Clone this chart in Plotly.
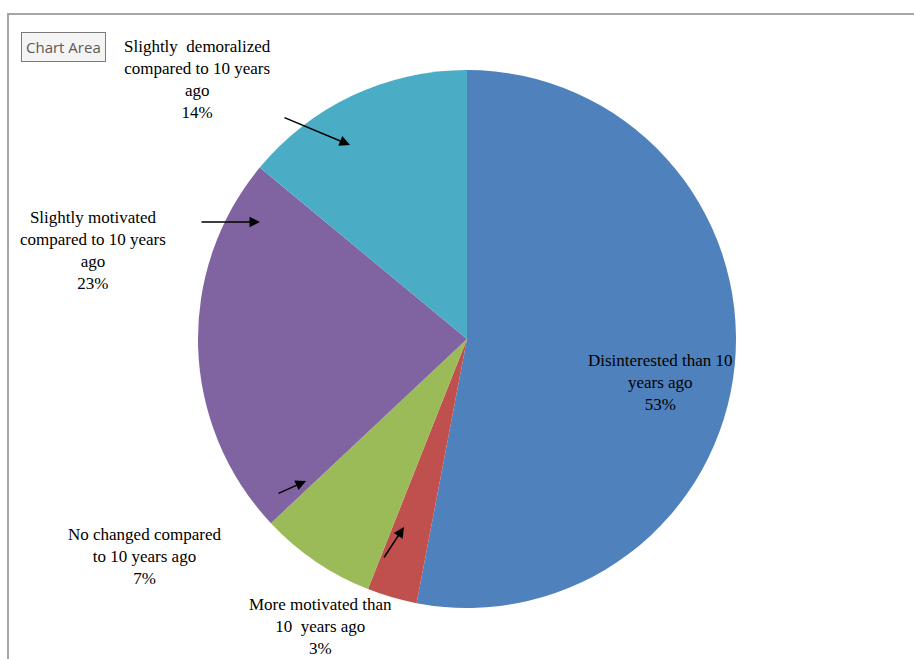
import plotly.graph_objects as go

W, H = 914, 659

categories = [
    "Disinterested than 10 years ago",
    "More motivated than 10 years ago",
    "No changed compared to 10 years ago",
    "Slightly motivated compared to 10 years ago",
    "Slightly demoralized compared to 10 years ago",
]
label_lines = [
    "Disinterested than 10<br>years ago",
    "More motivated than<br>10  years ago",
    "No changed compared<br>to 10 years ago",
    "Slightly motivated<br>compared to 10 years<br>ago",
    "Slightly  demoralized<br>compared to 10 years<br>ago",
]
values = [53, 3, 7, 23, 14]
colors = ["#4F81BD", "#C0504D", "#9BBB59", "#8064A2", "#4BACC6"]

# pie geometry in pixels
cx, cy, r = 467, 339, 269

def px(x):
    return x / W

def py(y):
    return 1 - y / H

fig = go.Figure(go.Pie(
    labels=categories,
    values=values,
    marker=dict(colors=colors, line=dict(width=0)),
    sort=False,
    direction="clockwise",
    rotation=0,
    textinfo="none",
    hoverinfo="label+percent",
    showlegend=False,
    domain=dict(x=[px(cx - r), px(cx + r)], y=[py(cy + r), py(cy - r)]),
))

font = dict(family="Liberation Serif, Times New Roman, serif", size=17, color="#000000")

# label positions (pixel centres)
label_pos = [(660, 382), (320, 626), (144, 556), (93, 250), (197, 80)]
total = sum(values)
annotations = []
for name, v, (lx, ly) in zip(label_lines, values, label_pos):
    annotations.append(dict(
        x=px(lx), y=py(ly), xref="paper", yref="paper",
        text=f"{name}<br>{round(v / total * 100)}%",
        showarrow=False, font=font, align="center",
        xanchor="center", yanchor="middle",
    ))

# leader arrows (tip, tail) in pixels
arrows = [((404, 527), (383, 559)), ((306, 481), (277, 494)),
          ((260, 222), (200, 222)), ((350, 145), (283, 117))]
for (tx, ty), (sx, sy) in arrows:
    annotations.append(dict(
        x=px(tx), y=py(ty), xref="paper", yref="paper",
        ax=sx - tx, ay=sy - ty, axref="pixel", ayref="pixel",
        text="", showarrow=True, arrowhead=2, arrowsize=1.4,
        arrowwidth=1.5, arrowcolor="#000000",
    ))

# "Chart Area" tooltip
annotations.append(dict(
    x=px(63), y=py(47), xref="paper", yref="paper",
    text="Chart Area", showarrow=False,
    font=dict(family="Open Sans, DejaVu Sans, sans-serif", size=15, color="#5a5a5a"),
    bgcolor="#f4f4f4", bordercolor="#7a7a7a", borderwidth=1, borderpad=4,
    xanchor="center", yanchor="middle",
))

fig.update_layout(
    width=W, height=H,
    margin=dict(l=0, r=0, t=0, b=0),
    paper_bgcolor="#ffffff",
    plot_bgcolor="#ffffff",
    annotations=annotations,
    shapes=[dict(type="rect", xref="paper", yref="paper",
                 x0=px(8), x1=1.02, y0=-0.02, y1=py(14),
                 line=dict(color="#a6a6a6", width=2), layer="below")],
)

fig.write_html("out.html", config={"displayModeBar": False},
               post_script="document.body.style.margin='0';")
